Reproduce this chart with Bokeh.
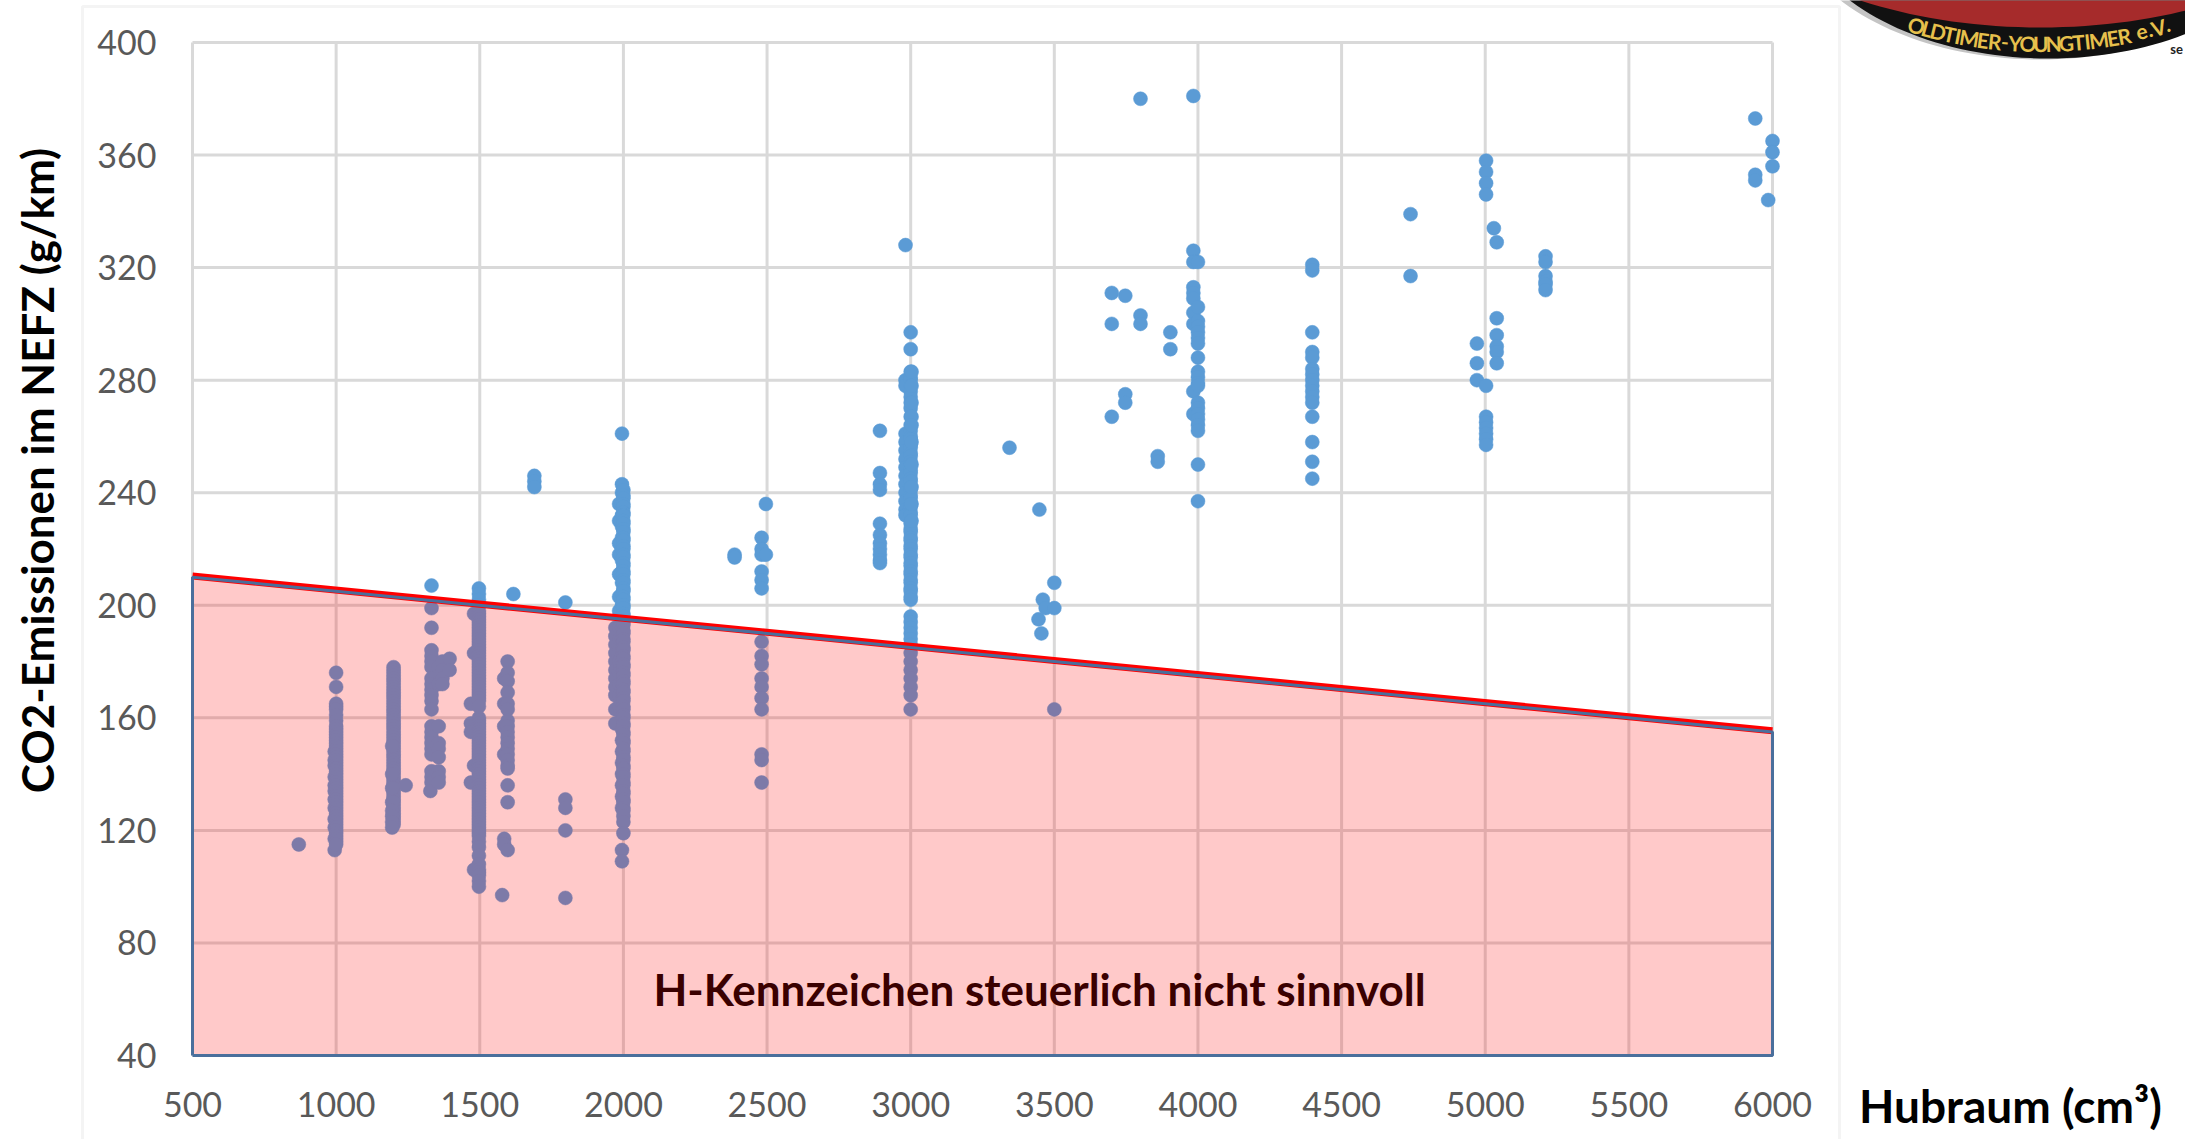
import math
from bokeh.embed import file_html
from bokeh.resources import INLINE
from bokeh.plotting import figure
from bokeh.models import Label, PolyAnnotation, BoxAnnotation, FixedTicker

# ---------- data ----------
x_ticks = [500, 1000, 1500, 2000, 2500, 3000, 3500, 4000, 4500, 5000, 5500, 6000]
y_ticks = [40, 80, 120, 160, 200, 240, 280, 320, 360, 400]

limit_x = [500, 6000]
limit_y = [210, 155]
red_y = [210.4, 155.4]

y_870 = [115]
y_995 = [148, 145, 143, 139, 136, 134, 131, 128, 124, 121, 117, 113]
y_1000 = [176, 171, 165, 164, 163, 161, 159, 157, 156, 155, 154, 153, 152, 151, 150, 149, 148, 147, 146, 145, 144,
          143, 142, 141, 140, 139, 138, 137, 136, 135, 134, 133, 132, 131, 130, 129, 128, 127, 126, 125, 124, 123,
          122, 121, 120, 119, 118, 117, 116, 115]
y_1200 = [178, 177, 176, 175, 174, 173, 172, 171, 170, 169, 168, 167, 166, 165, 164, 163, 162, 161, 160, 159, 158,
          157, 156, 155, 154, 153, 152, 151, 150, 149, 148, 147, 146, 145, 144, 143, 142, 141, 140, 139, 138, 137,
          136, 135, 134, 133, 132, 131, 130, 129, 128, 127, 126, 125, 124, 123, 122]
y_1195 = [150, 140, 135, 130, 127, 125, 123, 121]
y_1242 = [136]
y_1332 = [207, 199, 192, 184, 182, 180, 178, 174, 172, 170, 168, 166, 163, 157, 155, 153, 151, 149, 147, 141, 139, 137]
y_1328 = [134]
y_1357 = [178, 172, 157, 151, 149, 146, 141, 139, 137]
y_1370 = [180, 177, 174, 172]
y_1395 = [181, 177]
y_1469 = [165, 158, 155, 137]
y_1480 = [197, 183, 143, 106]
y_1497 = [206, 204, 202, 200, 198, 197, 196, 195, 194, 193, 192, 191, 190, 189, 188, 187, 186, 185, 184, 183, 182,
          181, 180, 179, 178, 177, 176, 175, 174, 173, 172, 171, 170, 169, 168, 167, 166, 164, 160, 159, 158, 157,
          156, 155, 154, 153, 152, 151, 150, 149, 148, 147, 146, 145, 144, 143, 142, 141, 140, 139, 138, 137, 136,
          135, 134, 133, 132, 131, 130, 129, 128, 127, 126, 125, 124, 123, 122, 121, 120, 119, 118, 116, 114, 111,
          108, 106, 105, 104, 102, 100]
y_1585 = [174, 165, 157, 147, 117, 115]
y_1597 = [180, 176, 173, 169, 165, 163, 159, 157, 155, 153, 151, 149, 147, 145, 143, 142, 136, 130, 113]
y_1578 = [97]
y_1617 = [204]
y_1690 = [246, 244, 242]
y_1798 = [201, 131, 128, 120, 96]
y_1972 = [192, 189, 186, 183, 180, 177, 174, 171, 168, 163, 158]
y_1985 = [236, 230, 222, 218, 211, 203, 198, 192, 188, 184, 180, 176, 172, 168, 164]
y_1995 = [261, 243, 240, 236, 232, 228, 224, 220, 216, 212, 208, 204, 200, 196, 192, 188, 184, 180, 176, 172, 168,
          164, 160, 156, 152, 148, 144, 140, 136, 132, 128, 113, 109]
y_2000 = [241, 239, 238, 236, 235, 233, 232, 230, 229, 227, 226, 224, 223, 221, 220, 218, 217, 215, 214, 212, 211,
          209, 208, 206, 205, 203, 202, 200, 199, 197, 196, 194, 193, 191, 190, 188, 187, 185, 184, 182, 181, 179,
          178, 176, 175, 173, 172, 170, 169, 167, 166, 164, 163, 161, 160, 158, 157, 155, 154, 152, 151, 149, 148,
          146, 145, 143, 142, 140, 139, 137, 136, 134, 133, 131, 130, 128, 127, 125, 123, 119]
y_2387 = [218, 217]
y_2481 = [224, 220, 218, 212, 209, 206, 187, 182, 179, 174, 171, 167, 163, 147, 145, 137]
y_2496 = [236, 218]
y_2893 = [262, 247, 243, 241, 229, 225, 222, 220, 218, 216, 215]
y_2982 = [328, 280, 278, 261, 258, 255, 252, 249, 246, 243, 240, 237, 234, 232]
y_3000 = [297, 291, 283, 281, 280, 278, 276, 274, 272, 270, 267, 264, 262, 260, 259, 257, 256, 254, 253, 251, 250,
          248, 247, 245, 244, 242, 241, 239, 238, 236, 235, 233, 232, 230, 229, 227, 226, 224, 223, 221, 220, 218,
          217, 215, 214, 212, 211, 209, 208, 206, 205, 203, 202, 196, 194, 192, 190, 188, 186, 183, 180, 177, 174,
          171, 168, 163]
y_3003 = [283, 278, 272, 267, 264, 258, 250, 242, 236, 230]
y_3344 = [256]
y_3445 = [195]
y_3448 = [234]
y_3455 = [190]
y_3460 = [202]
y_3470 = [199]
y_3500 = [208, 199, 163]
y_3700 = [311, 300, 267]
y_3747 = [310, 275, 272]
y_3800 = [380, 303, 300]
y_3860 = [253, 251]
y_3904 = [297, 291]
y_3984 = [381, 326, 322, 313, 311, 309, 304, 300, 276, 268]
y_4000 = [322, 306, 301, 299, 297, 295, 293, 288, 283, 281, 279, 278, 272, 270, 268, 266, 264, 262, 250, 237]
y_4398 = [321, 319, 297, 290, 288, 284, 282, 280, 278, 276, 274, 272, 267, 258, 251, 245]
y_4740 = [339, 317]
y_4971 = [293, 286, 280]
y_5003 = [358, 354, 350, 346, 278, 267, 265, 263, 261, 259, 257]
y_5030 = [334]
y_5040 = [329, 302, 296, 292, 290, 286]
y_5210 = [324, 322, 317, 315, 314, 312]
y_5940 = [373, 353, 351]
y_5985 = [344]
y_6000 = [365, 361, 356]

columns = [(870, y_870), (995, y_995), (1000, y_1000), (1200, y_1200), (1195, y_1195), (1242, y_1242),
           (1332, y_1332), (1328, y_1328), (1357, y_1357), (1370, y_1370), (1395, y_1395), (1469, y_1469),
           (1480, y_1480), (1497, y_1497), (1585, y_1585), (1597, y_1597), (1578, y_1578), (1617, y_1617),
           (1690, y_1690), (1798, y_1798), (1972, y_1972), (1985, y_1985), (1995, y_1995), (2000, y_2000),
           (2387, y_2387), (2481, y_2481), (2496, y_2496), (2893, y_2893), (2982, y_2982), (3000, y_3000),
           (3003, y_3003), (3344, y_3344), (3445, y_3445), (3448, y_3448), (3455, y_3455), (3460, y_3460),
           (3470, y_3470), (3500, y_3500), (3700, y_3700), (3747, y_3747), (3800, y_3800), (3860, y_3860),
           (3904, y_3904), (3984, y_3984), (4000, y_4000), (4398, y_4398), (4740, y_4740), (4971, y_4971),
           (5003, y_5003), (5030, y_5030), (5040, y_5040), (5210, y_5210), (5940, y_5940), (5985, y_5985),
           (6000, y_6000)]

hubraum = [x for x, ys in columns for _ in ys]
co2 = [y for _, ys in columns for y in ys]

logo_letters = "OLDTIMER-YOUNGTIMER e.V."
FONT = "Lato"

# ---------- page pixels to data units: the frame fills the whole canvas ----------
def dx(px):
    return 500 + (px - 192) * 5500 / 1580

def dy(py):
    return 40 + (1055 - py) * 360 / 1013

FW, FH = 2185, 1139
p = figure(width=FW, height=FH, output_backend="svg", toolbar_location=None,
           x_range=(dx(0), dx(FW)), y_range=(dy(FH), dy(0)),
           min_border=0, outline_line_color=None, background_fill_color="white", border_fill_color="white")

for ax, ticks, loc in ((p.xaxis[0], x_ticks, 40), (p.yaxis[0], y_ticks, 500)):
    ax.ticker = FixedTicker(ticks=ticks)
    ax.fixed_location = loc
    ax.axis_line_color = None
    ax.major_tick_line_color = None
    ax.minor_tick_line_color = None
    ax.major_label_text_font = FONT
    ax.major_label_text_font_size = "34px"
    ax.major_label_text_color = "#595959"
p.xaxis[0].major_label_standoff = 30
p.yaxis[0].major_label_standoff = 30
p.grid.visible = False

p.segment(x0=x_ticks, y0=[y_ticks[0]] * len(x_ticks), x1=x_ticks, y1=[y_ticks[-1]] * len(x_ticks),
          line_color="#d9d9d9", line_width=3)
p.segment(x0=[x_ticks[0]] * len(y_ticks), y0=y_ticks, x1=[x_ticks[-1]] * len(y_ticks), y1=y_ticks,
          line_color="#d9d9d9", line_width=3)

p.scatter(x=hubraum, y=co2, size=14, marker="circle", fill_color="#5b9bd5", line_color="#5b9bd5", line_width=0.5)
p.varea(x=limit_x, y1=[40, 40], y2=limit_y, fill_color="#ff0000", fill_alpha=0.21)
p.line(limit_x, red_y, line_color="#ff0000", line_width=7)
p.line([limit_x[0], limit_x[0], limit_x[1], limit_x[1], limit_x[0]],
       [40, limit_y[0], limit_y[1], 40, 40], line_color="#4a6f9c", line_width=3)

def page_label(x, y, text, **kw):
    p.add_layout(Label(x=dx(x), y=dy(y), text=text, **kw))

page_label(1039, 988, "H-Kennzeichen steuerlich nicht sinnvoll", text_font=FONT, text_font_style="bold",
           text_font_size="44px", text_color="#3a0000", text_align="center", text_baseline="middle")
page_label(36, 470, "CO2-Emissionen im NEFZ (g/km)", text_font=FONT, text_font_style="bold", text_font_size="44px",
           text_color="black", angle=90, angle_units="deg", text_align="center", text_baseline="middle")
page_label(2010, 1105, "Hubraum (cm³)", text_font=FONT, text_font_style="bold", text_font_size="46px",
           text_color="black", text_align="center", text_baseline="middle")

p.add_layout(BoxAnnotation(left=dx(82), right=dx(1839), top=dy(6), bottom=dy(1160), fill_alpha=0,
                           line_color="#d9d9d9", line_width=3))

def ellipse(cx, cy, a, b):
    pts = [(cx + a * math.cos(math.radians(t)), cy + b * math.sin(math.radians(t))) for t in range(0, 181, 2)]
    return [dx(q[0]) for q in pts], [dy(max(q[1], -10)) for q in pts]

for (cx, cy, a, b, col) in ((2040, -100, 257, 159, "#c4c4c4"), (2048, -101, 257, 159, "#111111"),
                            (2040, -130, 321, 157, "#a62b2b")):
    xs, ys = ellipse(cx, cy, a, b)
    p.add_layout(PolyAnnotation(xs=xs, ys=ys, fill_color=col, fill_alpha=1, line_color=col, line_alpha=0))

adv = {"I": 0.5, ".": 0.5, " ": 0.5, "-": 0.6, "M": 1.35, "e": 0.9, "L": 0.85, "T": 0.9, "R": 1.0, "E": 0.85}
weights = [adv.get(c, 1.0) for c in logo_letters]
cx, cy, a, b = 2040, -115, 267, 158
t0, t1 = math.radians(119), math.radians(61)
cum = 0.0
total = sum(weights)
for ch, w in zip(logo_letters, weights):
    f = (cum + w / 2) / total
    cum += w
    t = t0 + (t1 - t0) * f
    lx, ly = cx + a * math.cos(t), cy + b * math.sin(t)
    rot = math.atan2(b * math.cos(t), a * math.sin(t))
    if ch != " ":
        page_label(lx, ly, ch, text_font=FONT, text_font_style="bold", text_font_size="21px", text_color="#e6c04c",
                   angle=rot, angle_units="rad", text_align="center", text_baseline="middle")

page_label(2176, 48, "se", text_font=FONT, text_font_style="bold", text_font_size="13px", text_color="#222222",
           text_align="center", text_baseline="middle")

open("out.html", "w").write(file_html(p, INLINE))
